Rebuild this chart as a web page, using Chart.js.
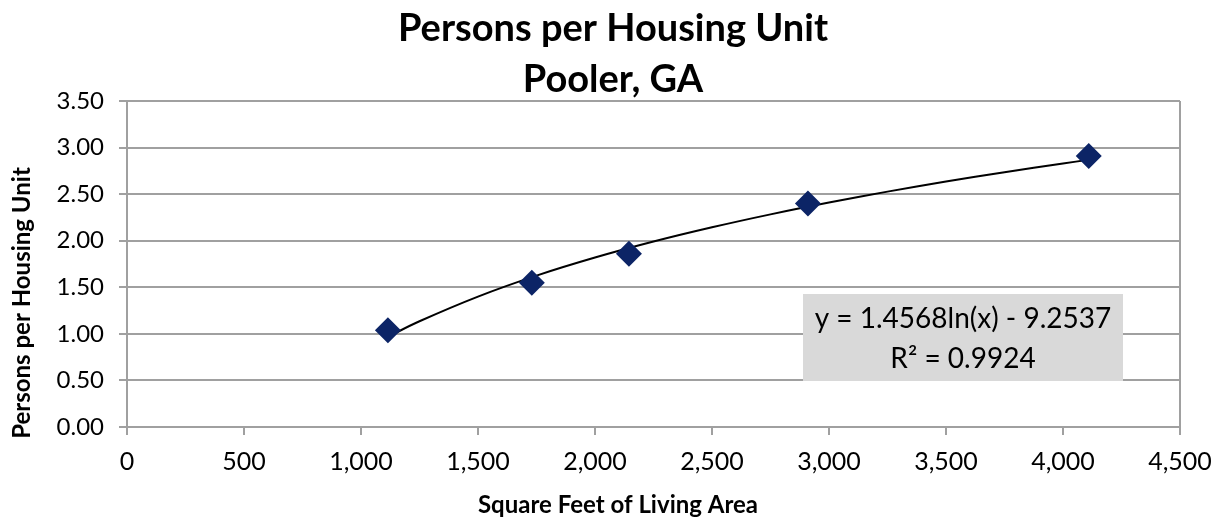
<!DOCTYPE html>
<html><head><meta charset="utf-8">
<script src="https://cdn.jsdelivr.net/npm/chart.js@4.4.0/dist/chart.umd.min.js"></script>
<style>html,body{margin:0;padding:0;background:#fff}#wrap{width:1217px;height:519px}</style>
</head><body><div id="wrap"><canvas id="c" width="1217" height="519"></canvas></div>
<script>
const titleLines = ["Persons per Housing Unit", "Pooler, GA"];
const xTitle = "Square Feet of Living Area";
const yTitle = "Persons per Housing Unit";
const sqft = [1115, 1730, 2145, 2910, 4110];
const persons = [1.04, 1.55, 1.86, 2.40, 2.91];
const trendX = [1115, 1250, 1500, 1750, 2000, 2250, 2500, 2750, 3000, 3250, 3500, 3750, 4000, 4110];
const trendY = [0.968, 1.135, 1.400, 1.625, 1.819, 1.991, 2.144, 2.283, 2.410, 2.527, 2.635, 2.735, 2.829, 2.869];
const eqLines = ["y = 1.4568ln(x) - 9.2537", "R\u00b2 = 0.9924"];

const FONT = "Lato, 'Open Sans', sans-serif";
const grey = '#a0a0a0';

const deco = {
  id: 'deco',
  beforeDatasetsDraw(chart) {
    const ctx = chart.ctx, a = chart.chartArea;
    ctx.save();
    ctx.strokeStyle = grey; ctx.lineWidth = 2;
    ctx.beginPath(); ctx.moveTo(a.right, a.top); ctx.lineTo(a.right, a.bottom); ctx.stroke();
    ctx.restore();
  },
  afterDraw(chart) {
    const ctx = chart.ctx;
    ctx.save();
    ctx.fillStyle = '#000';
    ctx.textAlign = 'center'; ctx.textBaseline = 'middle';
    ctx.font = "bold 38px " + FONT;
    ctx.fillText(titleLines[0], 613, 29);
    ctx.fillText(titleLines[1], 613, 80);
    ctx.font = "bold 24px " + FONT;
    ctx.fillText(xTitle, 618, 505);
    ctx.save();
    ctx.translate(22, 303); ctx.rotate(-Math.PI / 2);
    ctx.fillText(yTitle, 0, 0);
    ctx.restore();
    // equation box
    const bx = 803, by = 294, bw = 320, bh = 87;
    ctx.fillStyle = '#d9d9d9';
    ctx.fillRect(bx, by, bw, bh);
    ctx.fillStyle = '#000';
    ctx.font = "28px " + FONT;
    ctx.fillText(eqLines[0], bx + bw / 2, by + 25);
    ctx.fillText(eqLines[1], bx + bw / 2, by + 65);
    ctx.restore();
  }
};

new Chart(document.getElementById('c'), {
  type: 'scatter',
  data: {
    datasets: [
      {
        label: 'Trend',
        data: trendX.map((x, i) => ({ x, y: trendY[i] })),
        showLine: true, borderColor: '#000', borderWidth: 2,
        pointRadius: 0, tension: 0.4, fill: false, order: 2
      },
      {
        label: 'Persons',
        data: sqft.map((x, i) => ({ x, y: persons[i] })),
        pointStyle: 'rectRot', pointRadius: 13, pointHoverRadius: 13,
        backgroundColor: '#0c2466', borderColor: '#0c2466', borderWidth: 0, order: 1
      }
    ]
  },
  options: {
    responsive: false, animation: false, devicePixelRatio: 1,
    layout: { padding: { top: 101, right: 37, left: 0, bottom: 0 } },
    plugins: { legend: { display: false }, tooltip: { enabled: false }, title: { display: false } },
    scales: {
      x: {
        type: 'linear', min: 0, max: 4500,
        afterFit(s) { s.height = 92; s.paddingLeft = 0; s.paddingRight = 0; },
        ticks: { stepSize: 500, color: '#000', font: { family: FONT, size: 25 }, padding: 12, maxRotation: 0,
          callback: v => v.toLocaleString('en-US') },
        grid: { drawOnChartArea: false, drawTicks: true, tickLength: 8, color: grey, lineWidth: 2 },
        border: { color: grey, width: 2 }
      },
      y: {
        min: 0, max: 3.5,
        afterFit(s) { s.width = 127; s.paddingTop = 0; s.paddingBottom = 0; },
        ticks: { stepSize: 0.5, color: '#000', font: { family: FONT, size: 24 }, padding: 15,
          callback: v => v.toFixed(2) },
        grid: { color: grey, lineWidth: 2, tickLength: 8 },
        border: { color: grey, width: 2 }
      }
    }
  },
  plugins: [deco]
});
</script></body></html>
